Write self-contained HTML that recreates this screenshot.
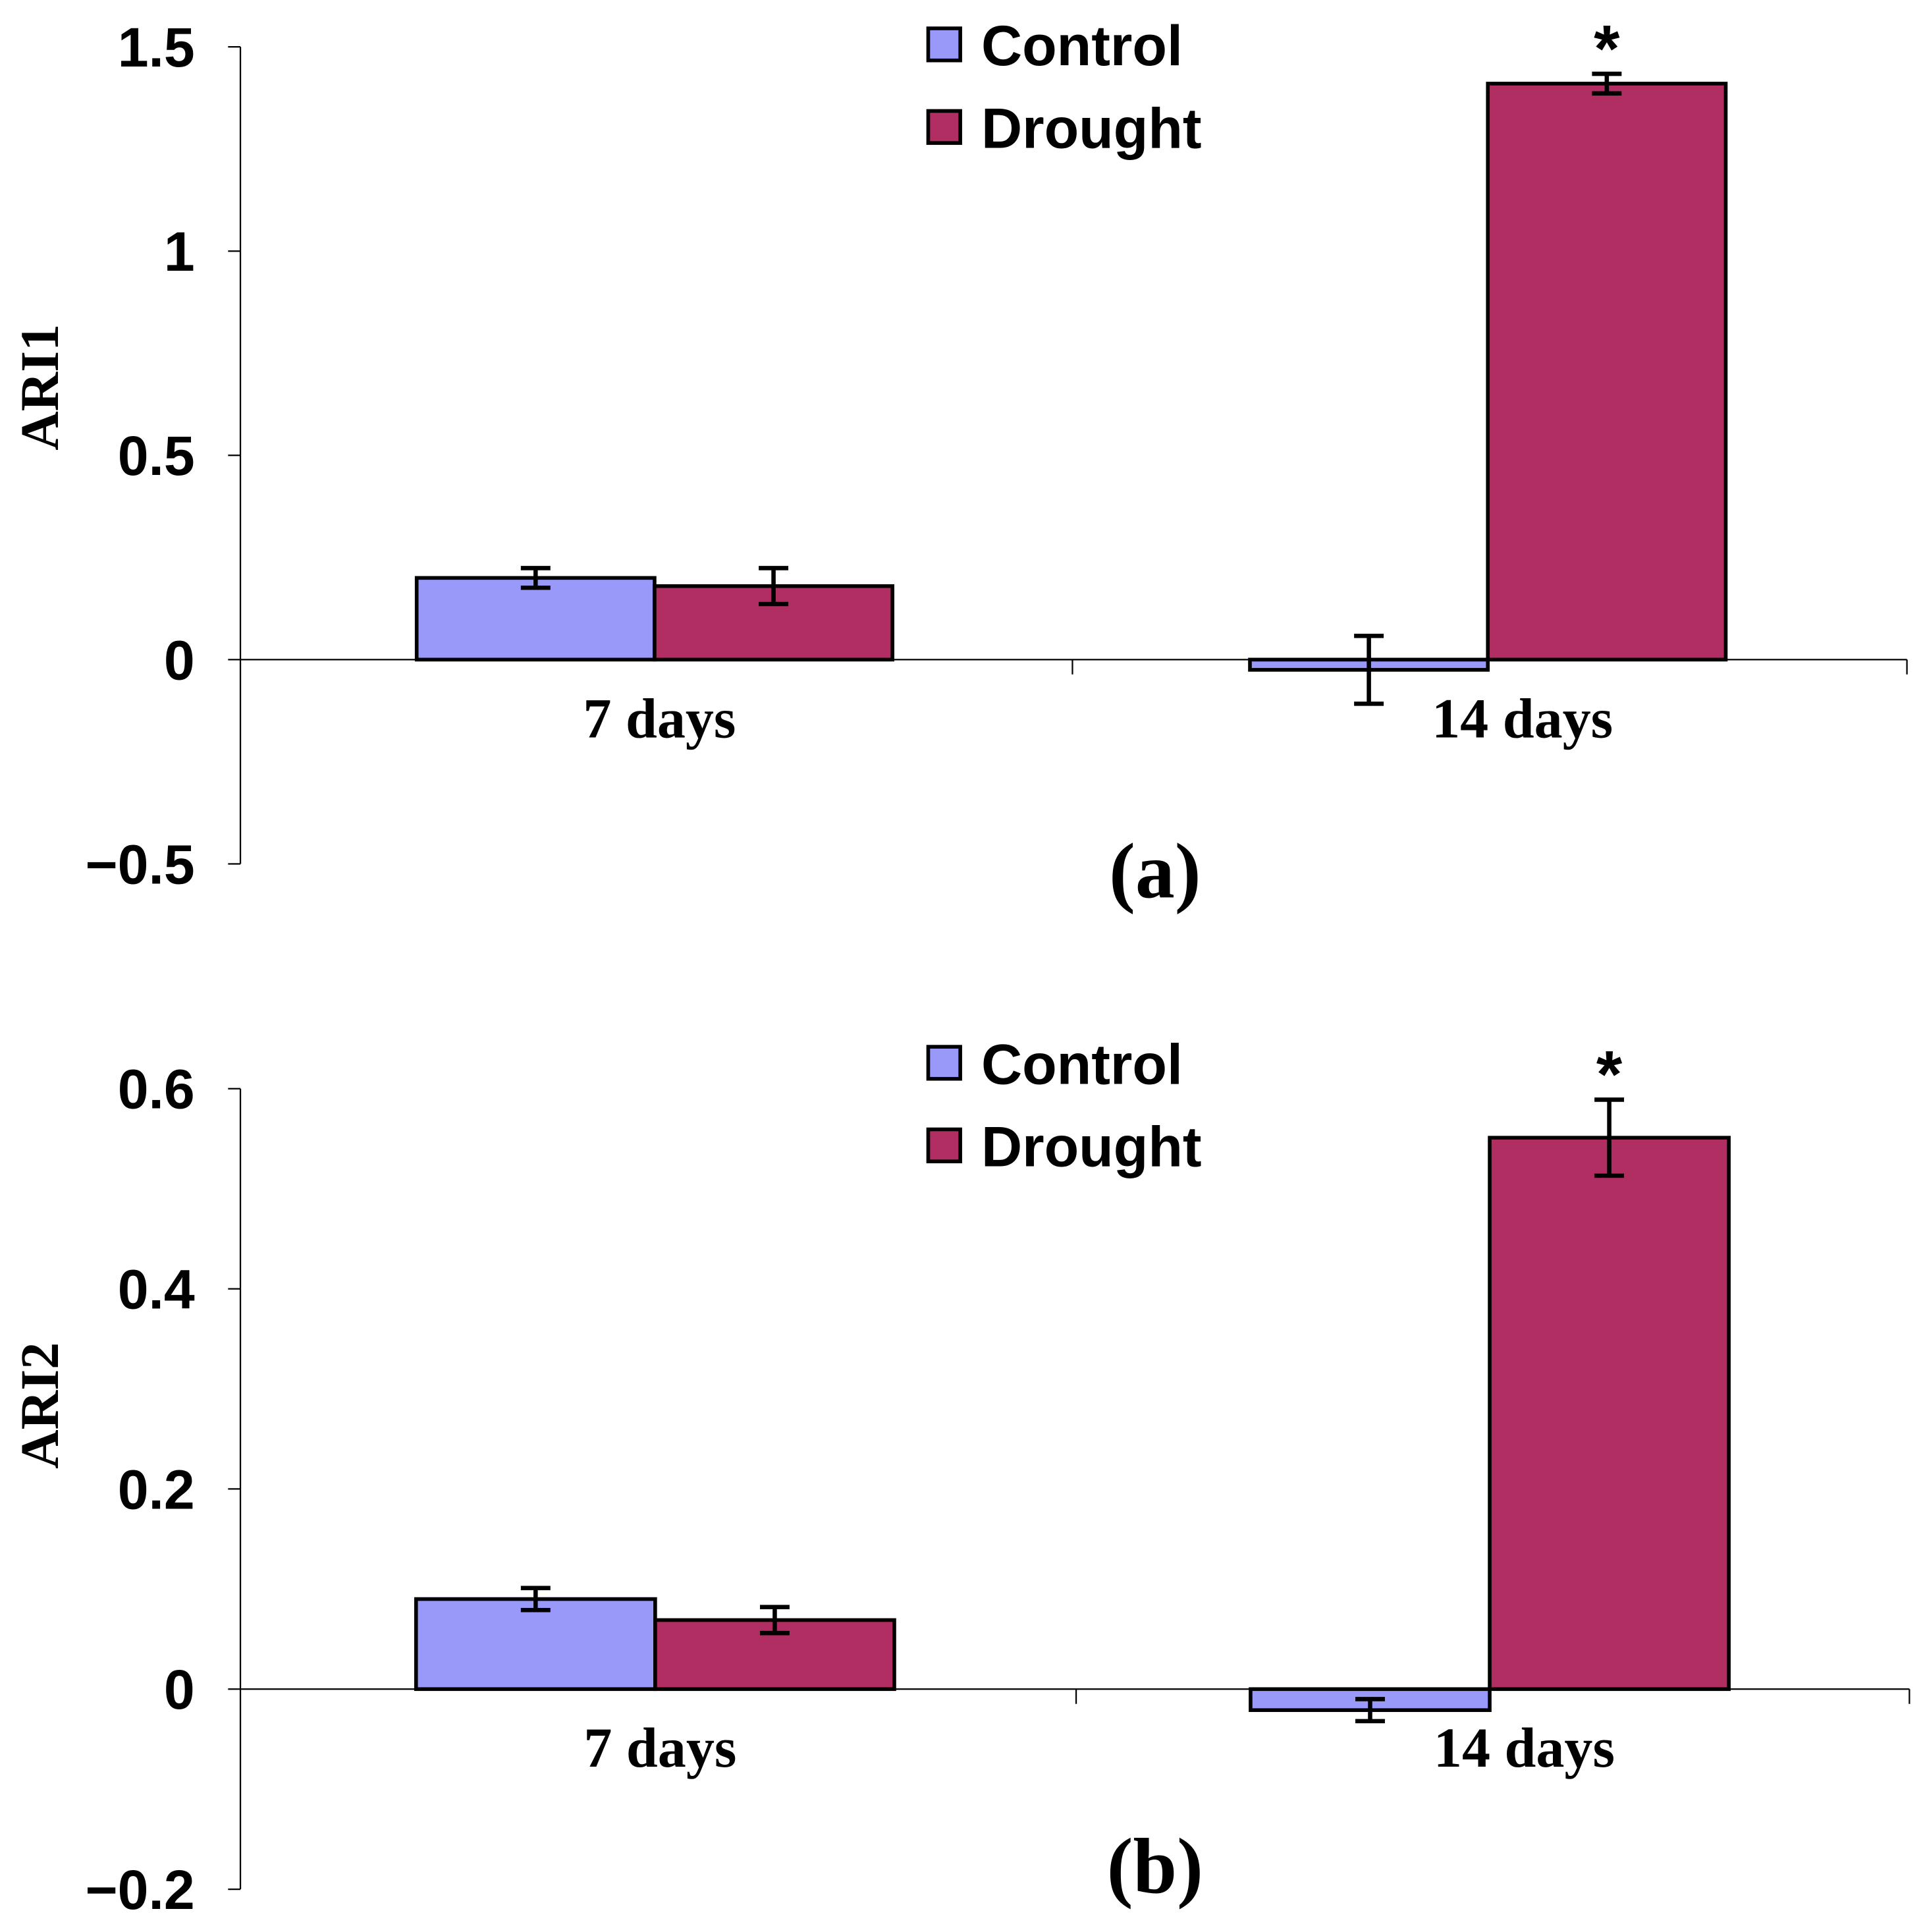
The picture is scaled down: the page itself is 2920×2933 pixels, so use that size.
<!DOCTYPE html>
<html><head><meta charset="utf-8"><style>
html,body{margin:0;padding:0;background:#fff;}
svg{display:block;}
</style></head><body>
<svg id="chart" width="2920" height="2933" viewBox="0 0 1560 1567" xmlns="http://www.w3.org/2000/svg"></svg>
<script>
const categories = ["7 days", "14 days"];
const seriesNames = ["Control", "Drought"];
const ari1Control = [0.20, -0.025];
const ari1Drought = [0.18, 1.41];
const ari1ControlErr = [0.024, 0.083];
const ari1DroughtErr = [0.044, 0.024];
const ari1Ticks = [1.5, 1, 0.5, 0, -0.5];
const ari1TickLabels = ["1.5", "1", "0.5", "0", "\u22120.5"];
const ari1Sig = [false, true];
const ari2Control = [0.09, -0.021];
const ari2Drought = [0.069, 0.551];
const ari2ControlErr = [0.011, 0.011];
const ari2DroughtErr = [0.013, 0.038];
const ari2Ticks = [0.6, 0.4, 0.2, 0, -0.2];
const ari2TickLabels = ["0.6", "0.4", "0.2", "0", "\u22120.2"];
const ari2Sig = [false, true];

const NS = "http://www.w3.org/2000/svg";
const svg = document.getElementById("chart");
function mk(tag, attrs, parent, text){
  const e = document.createElementNS(NS, tag);
  for (const k in attrs) e.setAttribute(k, attrs[k]);
  if (text !== undefined) e.textContent = text;
  (parent||svg).appendChild(e);
  return e;
}
const colors = ["#9999fa", "#b02e62"];
const labelShift = [4, 28];

function panel(cfg){
  const g = mk("g", {});
  
  
  const y = v => cfg.y0 + (v - cfg.v0) * (cfg.y1 - cfg.y0) / (cfg.v1 - cfg.v0);
  const ax = 195;
  const zero = y(0);
  const lo = cfg.ticks[cfg.ticks.length-1], hi = cfg.ticks[0];
  const yl = mk("line", {x1:ax, x2:ax, y1:y(hi), y2:y(lo), stroke:"#000", "stroke-width":1.2}, g);
  
  
  cfg.ticks.forEach((t,i)=>{
    mk("line", {x1:ax-10, x2:ax, y1:y(t), y2:y(t), stroke:"#000", "stroke-width":1.2}, g);
    const tl = mk("text", {x:158, y:y(t)+16, "text-anchor":"end", "font-family":"Liberation Sans, sans-serif", "font-weight":"bold", "font-size":45}, g, cfg.tickLabels[i]);
    
    
  });
  const xl = mk("line", {x1:ax, x2:cfg.xEnd, y1:zero, y2:zero, stroke:"#000", "stroke-width":1.2}, g);
  
  
  [cfg.mid, cfg.xEnd].forEach(x=>mk("line", {x1:x, x2:x, y1:zero, y2:zero+12, stroke:"#000", "stroke-width":1.2}, g));
  const catW = (cfg.xEnd - ax)/categories.length;
  const barW = cfg.barW;
  categories.forEach((c,i)=>{
    const cx = ax + catW*(i+0.5) - 2;
    const cl = mk("text", {x:cx + labelShift[i], y:zero+63, "text-anchor":"middle", "font-family":"Liberation Serif, serif", "font-weight":"bold", "font-size":46}, g, c);
    
    
    const vals = [cfg.ctrl[i], cfg.dr[i]];
    const errs = [cfg.ctrlErr[i], cfg.drErr[i]];
    vals.forEach((v,s)=>{
      const x = cx - barW + s*barW;
      const top = Math.min(y(v), zero), h = Math.abs(y(v)-zero);
      const r = mk("rect", {x:x, y:top, width:barW, height:h, fill:colors[s], stroke:"#000", "stroke-width":3}, g);
      
      
      const ex = x + barW/2;
      const eh = y(v+errs[s]), el = y(v-errs[s]);
      const eg = mk("g", {stroke:"#000", "stroke-width":3.5}, g);
      
      
      mk("line", {x1:ex, x2:ex, y1:eh, y2:el}, eg);
      mk("line", {x1:ex-12, x2:ex+12, y1:eh, y2:eh}, eg);
      mk("line", {x1:ex-12, x2:ex+12, y1:el, y2:el}, eg);
      if (s===1 && cfg.sig[i]) {
        const a = mk("text", {x:ex, y:eh-2, "text-anchor":"middle", "font-family":"Liberation Sans, sans-serif", "font-weight":"bold", "font-size":54}, g, "*");
        
        
      }
    });
  });
  const yt = mk("text", {x:0, y:0, transform:`translate(47,${cfg.titleY}) rotate(-90)`, "text-anchor":"middle", "font-family":"Liberation Serif, serif", "font-weight":"bold", "font-size":44}, g, cfg.yTitle);
  
  
  const pl = mk("text", {x:937, y:cfg.labelY, "text-anchor":"middle", "font-family":"Liberation Serif, serif", "font-weight":"bold", "font-size":64}, g, cfg.label);
  
  
  seriesNames.forEach((n,s)=>{
    const ly = cfg.legY + s*67;
    const lg = mk("g", {}, g);
    
    
    mk("rect", {x:753, y:ly-14, width:26, height:26, fill:colors[s], stroke:"#000", "stroke-width":3}, lg);
    mk("text", {x:796, y:ly+16, "font-family":"Liberation Sans, sans-serif", "font-weight":"bold", "font-size":46}, lg, n);
  });
}

panel({name:"panel-a-ari1", v0:0, y0:535, v1:1.5, y1:38, xEnd:1547, mid:870, barW:193,
  ctrl:ari1Control, dr:ari1Drought, ctrlErr:ari1ControlErr, drErr:ari1DroughtErr,
  ticks:ari1Ticks, tickLabels:ari1TickLabels, sig:ari1Sig, yTitle:"ARI1", titleY:314,
  label:"(a)", labelY:728, legY:37});
panel({name:"panel-b-ari2", v0:0, y0:1370, v1:0.6, y1:883, xEnd:1549, mid:873, barW:194,
  ctrl:ari2Control, dr:ari2Drought, ctrlErr:ari2ControlErr, drErr:ari2DroughtErr,
  ticks:ari2Ticks, tickLabels:ari2TickLabels, sig:ari2Sig, yTitle:"ARI2", titleY:1140,
  label:"(b)", labelY:1535, legY:863});
</script>
</body></html>
